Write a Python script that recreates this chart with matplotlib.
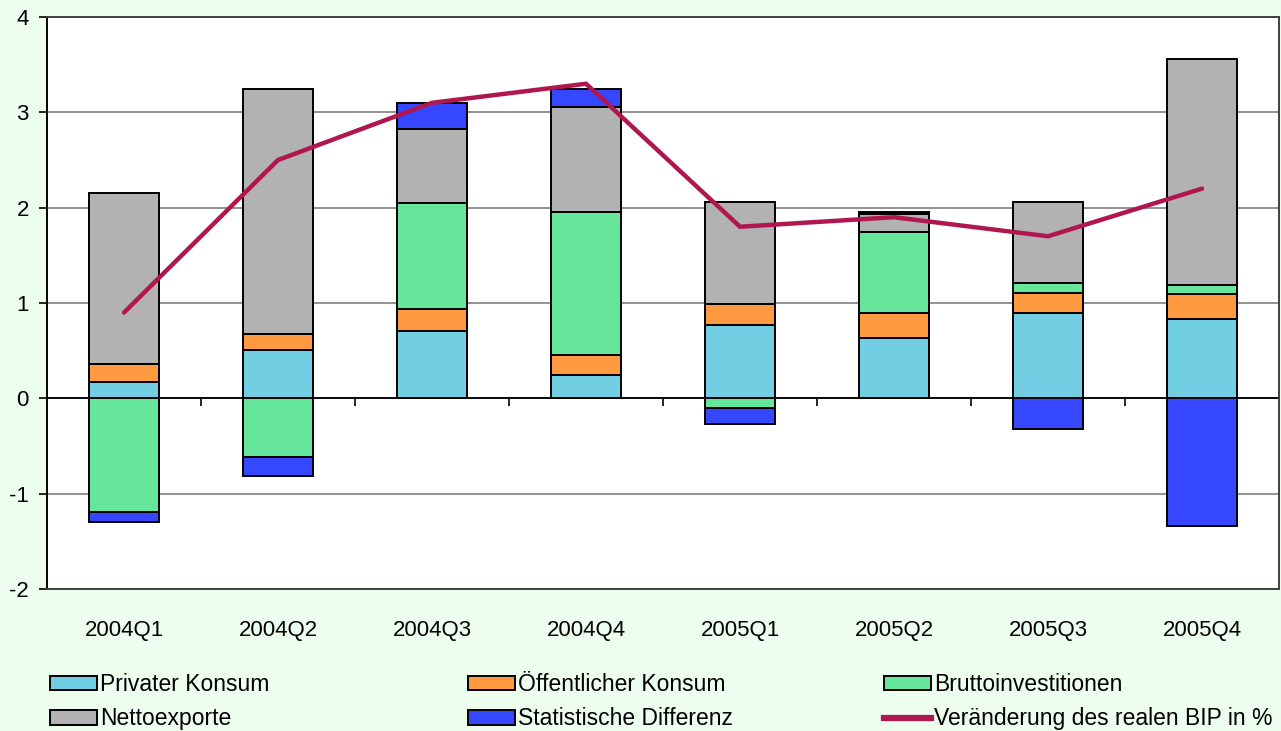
import matplotlib
matplotlib.use("Agg")
import matplotlib.pyplot as plt
import numpy as np
from matplotlib.patches import Patch
from matplotlib.lines import Line2D

plt.rcParams['font.family'] = ['Liberation Sans', 'DejaVu Sans']
plt.rcParams['axes.unicode_minus'] = False

categories = ['2004Q1', '2004Q2', '2004Q3', '2004Q4', '2005Q1', '2005Q2', '2005Q3', '2005Q4']
privater_konsum = [0.17, 0.51, 0.71, 0.25, 0.77, 0.63, 0.90, 0.83]
oeffentlicher_konsum = [0.19, 0.16, 0.23, 0.20, 0.22, 0.27, 0.21, 0.26]
bruttoinvestitionen = [-1.19, -0.62, 1.11, 1.50, -0.10, 0.84, 0.10, 0.10]
nettoexporte = [1.79, 2.57, 0.78, 1.11, 1.07, 0.19, 0.85, 2.37]
statistische_differenz = [-0.11, -0.19, 0.27, 0.18, -0.17, 0.02, -0.32, -1.34]
bip_veraenderung = [0.9, 2.5, 3.1, 3.3, 1.8, 1.9, 1.7, 2.2]

series = [
    ('Privater Konsum', privater_konsum, '#72CEE3'),
    ('Öffentlicher Konsum', oeffentlicher_konsum, '#FF9A40'),
    ('Bruttoinvestitionen', bruttoinvestitionen, '#66E69A'),
    ('Nettoexporte', nettoexporte, '#B2B2B2'),
    ('Statistische Differenz', statistische_differenz, '#3548FF'),
]
line_label = 'Veränderung des realen BIP in %'
line_color = '#B0174F'
bg = '#EEFEEE'

W, H = 1281, 731
fig = plt.figure(figsize=(W / 100, H / 100), dpi=100, facecolor=bg)
ax = fig.add_axes([47 / W, (H - 589) / H, 1232 / W, 572 / H])
ax.set_facecolor('white')

x = np.arange(len(categories))
pos_base = np.zeros(len(categories))
neg_base = np.zeros(len(categories))
for name, vals, col in series:
    vals = np.array(vals, dtype=float)
    bottoms = np.where(vals >= 0, pos_base, neg_base)
    ax.bar(x, vals, bottom=bottoms, width=0.455, color=col, edgecolor='black',
           linewidth=1.4, zorder=3)
    pos_base = pos_base + np.where(vals >= 0, vals, 0)
    neg_base = neg_base + np.where(vals < 0, vals, 0)

ax.plot(x, bip_veraenderung, color=line_color, lw=3.2, solid_capstyle='round',
        solid_joinstyle='miter', zorder=4)

ax.set_xlim(-0.5, len(categories) - 0.5)
ax.set_ylim(-2, 4)
ax.set_yticks(range(-2, 5))
ax.yaxis.grid(True, color='#808080', lw=1.2, zorder=0)
ax.set_axisbelow(True)
ax.axhline(0, color='black', lw=1.3, zorder=2.5)

ax.set_xticks(x)
ax.set_xticklabels(categories)
ax.tick_params(axis='x', length=0, pad=22, labelsize=16)
ax.tick_params(axis='y', length=6, width=1.2, pad=7, labelsize=16, direction='out')

for s in ax.spines.values():
    s.set_color('black')
    s.set_linewidth(1.4)
ax.spines['right'].set_color('#404040')
ax.spines['top'].set_color('#404040')
ax.spines['bottom'].set_color('#404040')

# category boundary ticks on the zero line
sec = ax.secondary_xaxis(1 / 3)
sec.set_xticks(np.arange(0.5, len(categories) - 0.5, 1.0))
sec.set_xticklabels([])
sec.tick_params(axis='x', length=6, width=1.2, direction='out', color='black')
sec.spines['bottom'].set_visible(False)

# legend (three columns positioned like the original)
handles = [Patch(facecolor=c, edgecolor='black', linewidth=1.4, label=n) for n, v, c in series]
handles.append(Line2D([0], [0], color=line_color, lw=4.5, label=line_label))
cols = [(handles[0], handles[3]), (handles[1], handles[4]), (handles[2], handles[5])]
col_x = [50, 468, 884]
for hs, cx in zip(cols, col_x):
    leg = fig.legend(handles=list(hs), loc='upper left', bbox_to_anchor=(cx / W, 1 - 673 / H),
                     frameon=False, fontsize=16.5, handlelength=2.05, handleheight=0.62,
                     handletextpad=0.12, borderpad=0, borderaxespad=0, labelspacing=0.5)

fig.savefig('out.png', dpi=100, facecolor=bg)
